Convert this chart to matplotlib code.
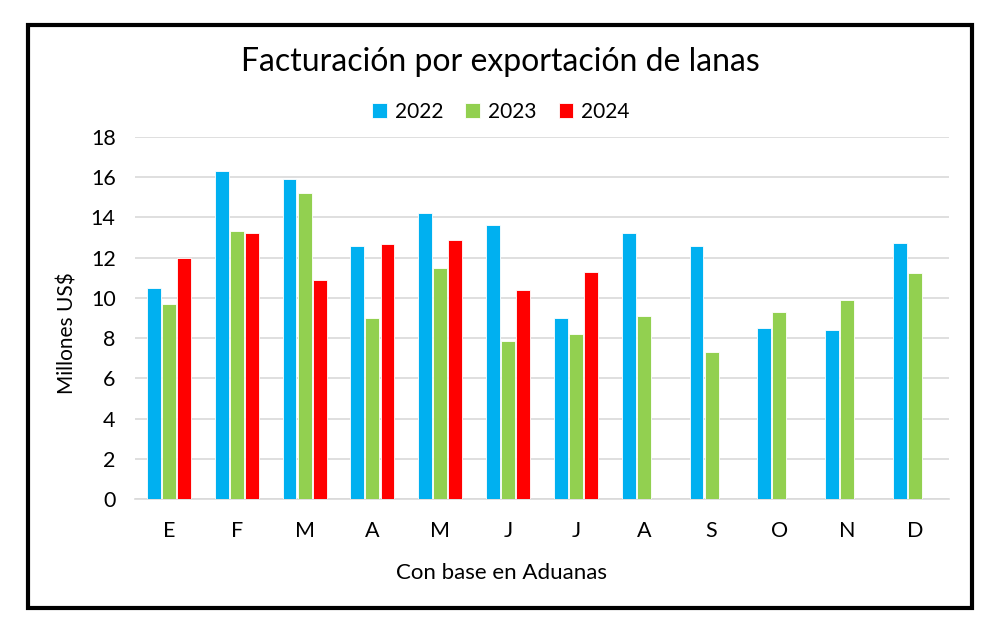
import matplotlib
matplotlib.use("Agg")
import matplotlib.pyplot as plt
import numpy as np
from matplotlib.patches import Rectangle

months = ["E", "F", "M", "A", "M", "J", "J", "A", "S", "O", "N", "D"]
years = ["2022", "2023", "2024"]
v2022 = [10.5, 16.3, 15.9, 12.6, 14.2, 13.6, 9.0, 13.2, 12.6, 8.5, 8.4, 12.75]
v2023 = [9.7, 13.3, 15.2, 9.0, 11.5, 7.85, 8.2, 9.1, 7.3, 9.3, 9.9, 11.25]
v2024 = [12.0, 13.2, 10.9, 12.7, 12.9, 10.4, 11.3]
colors = ["#00B0F0", "#92D050", "#FF0000"]

plt.rcParams['font.family'] = ['Lato', 'DejaVu Sans']

fig = plt.figure(figsize=(10, 6.33), dpi=100)
ax = fig.add_axes([0.135, 0.2117, 0.814, 0.572])

x = np.arange(len(months))
w = 0.205
step = 0.222
series = [v2022, v2023, v2024]
for i, (vals, c, lab) in enumerate(zip(series, colors, years)):
    xs = x[:len(vals)] + (i - 1) * step
    ax.bar(xs, vals, width=w, color=c, edgecolor="white", linewidth=0.6, label=lab, zorder=3)

ax.set_xlim(-0.5, len(months) - 0.5)
ax.set_ylim(0, 18)
ax.set_yticks(np.arange(0, 19, 2))
ax.set_xticks(x)
ax.set_xticklabels(months)
ax.yaxis.grid(True, color="#D9D9D9", linewidth=1.2, zorder=0)
for s in ["top", "right", "left"]:
    ax.spines[s].set_visible(False)
ax.spines["bottom"].set_color("#D9D9D9")
ax.spines["bottom"].set_linewidth(1.2)
ax.tick_params(axis="both", length=0, labelsize=15.5, colors="black")
ax.tick_params(axis="x", pad=16)
ax.tick_params(axis="y", pad=14)

fig.text(0.067, 0.474, "Millones US$", rotation=90, ha="center", va="center", fontsize=15)
fig.text(0.502, 0.095, "Con base en Aduanas", ha="center", va="center", fontsize=16)
fig.text(0.5, 0.902, "Facturación por exportación de lanas", ha="center", va="center", fontsize=23)
fig.legend(loc="center", bbox_to_anchor=(0.501, 0.823), ncol=3, frameon=False, fontsize=15,
           handlelength=0.7, handleheight=0.7, handletextpad=0.4, columnspacing=1.05)

fig.patches.append(Rectangle((0.0275, 0.0394), 0.944, 0.9216, transform=fig.transFigure,
                             fill=False, edgecolor="black", linewidth=3))

fig.savefig("out.png", dpi=100)
